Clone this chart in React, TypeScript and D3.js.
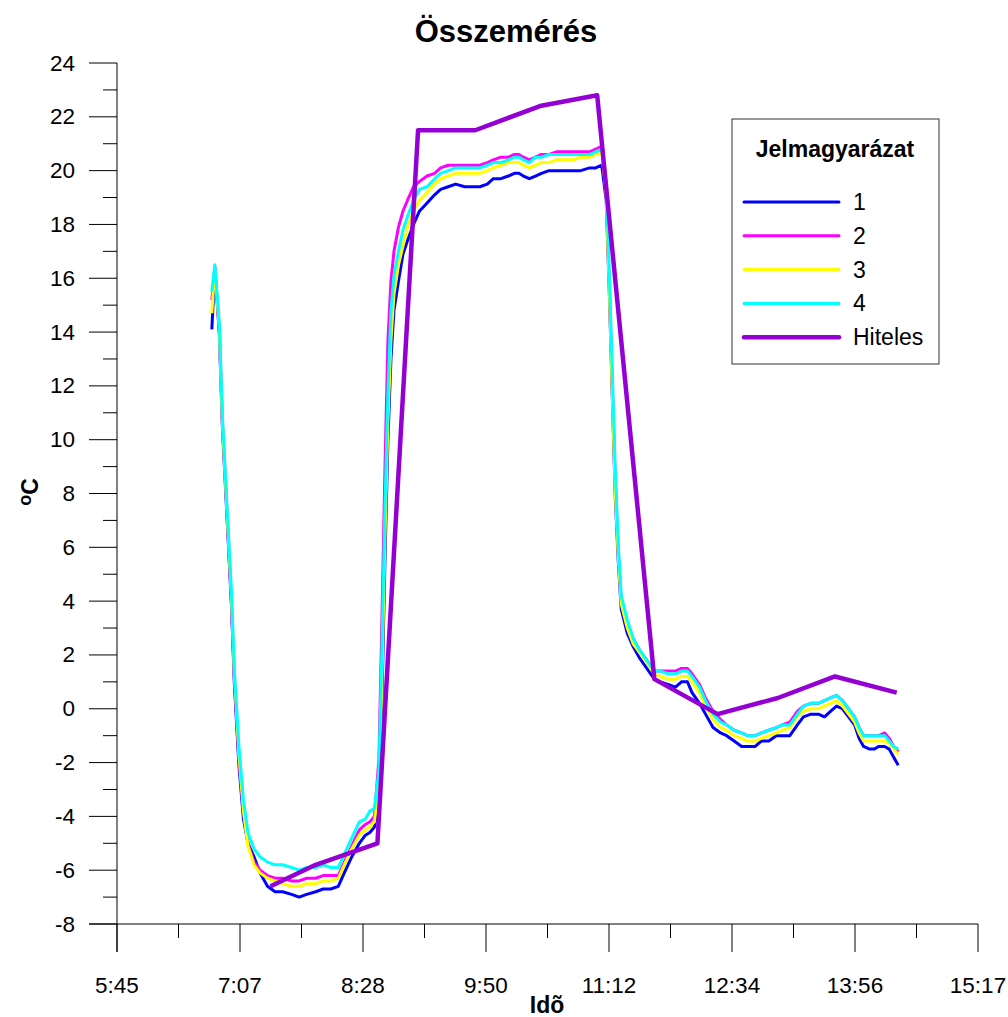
import React from 'react';
import * as d3 from 'd3';

// time in minutes since midnight
const times = [
  408, 410, 413, 415, 418, 421, 423, 426, 429, 432, 436, 440, 445, 450, 455, 461, 466, 471, 477, 482,
  487, 492, 496, 501, 506, 510, 513, 516, 519, 521, 523, 525, 527, 529, 532, 535, 538, 542, 546, 551,
  556, 560, 565, 570, 576, 581, 586, 591, 595, 600, 605, 609, 612, 615, 619, 623, 627, 632, 637, 643,
  648, 653, 659, 663, 667, 670, 672, 674, 676, 678, 680, 684, 688, 692, 697, 702, 706, 711, 716, 720,
  724, 727, 732, 736, 741, 746, 750, 755, 760, 764, 769, 773, 778, 783, 787, 792, 797, 801, 806, 811,
  815, 819, 823, 827, 831, 835, 838, 841, 845, 848, 851, 855, 858, 861, 864,
];

const s1 = [
  14.1, 16.4, 13.9, 10.5, 7.2, 3.9, 0.9, -2.1, -4.1, -5.0, -5.5, -6.1, -6.6, -6.8, -6.8, -6.9, -7.0, -6.9, -6.8, -6.7,
  -6.7, -6.6, -6.1, -5.5, -5.0, -4.7, -4.6, -4.4, -3.4, 0.3, 5.5, 10.0, 13.0, 14.8, 15.9, 16.9, 17.4, 18.0, 18.5, 18.8,
  19.1, 19.3, 19.4, 19.5, 19.4, 19.4, 19.4, 19.5, 19.7, 19.7, 19.8, 19.9, 19.9, 19.8, 19.7, 19.8, 19.9, 20.0, 20.0, 20.0,
  20.0, 20.0, 20.1, 20.1, 20.2, 18.9, 15.6, 11.7, 7.9, 5.5, 3.7, 2.8, 2.3, 1.9, 1.5, 1.1, 1.0, 0.9, 0.8, 1.0,
  1.0, 0.6, 0.2, -0.2, -0.7, -0.9, -1.0, -1.2, -1.4, -1.4, -1.4, -1.2, -1.2, -1.0, -1.0, -1.0, -0.6, -0.3, -0.2, -0.2,
  -0.3, -0.1, 0.1, 0.0, -0.3, -0.6, -1.1, -1.4, -1.5, -1.5, -1.4, -1.4, -1.5, -1.8, -2.1,
];

const s2 = [
  15.2, 16.4, 14.1, 10.7, 7.4, 4.0, 1.1, -1.9, -3.8, -5.0, -5.7, -6.0, -6.2, -6.3, -6.3, -6.4, -6.4, -6.3, -6.3, -6.2,
  -6.2, -6.2, -5.7, -5.1, -4.5, -4.3, -4.2, -4.0, -1.9, 3.3, 8.9, 13.7, 15.9, 17.0, 17.9, 18.5, 18.9, 19.4, 19.6, 19.8,
  19.9, 20.1, 20.2, 20.2, 20.2, 20.2, 20.2, 20.3, 20.4, 20.5, 20.5, 20.6, 20.6, 20.5, 20.4, 20.5, 20.6, 20.6, 20.7, 20.7,
  20.7, 20.7, 20.7, 20.8, 20.9, 19.3, 15.9, 12.2, 8.5, 5.9, 4.0, 3.1, 2.6, 2.2, 1.8, 1.4, 1.4, 1.4, 1.4, 1.5,
  1.5, 1.3, 0.9, 0.4, -0.1, -0.4, -0.6, -0.8, -0.9, -1.0, -1.0, -0.9, -0.8, -0.7, -0.6, -0.5, -0.1, 0.1, 0.2, 0.2,
  0.3, 0.4, 0.5, 0.3, 0.0, -0.3, -0.7, -1.0, -1.0, -1.0, -1.0, -0.9, -1.1, -1.4, -1.6,
];

const s3 = [
  14.7, 16.4, 14.1, 10.7, 7.4, 4.2, 1.3, -1.7, -3.8, -5.1, -5.8, -6.1, -6.3, -6.4, -6.5, -6.6, -6.6, -6.5, -6.5, -6.4,
  -6.4, -6.3, -5.8, -5.2, -4.7, -4.5, -4.4, -4.2, -3.0, 1.1, 6.3, 10.7, 13.7, 15.4, 16.5, 17.2, 17.9, 18.5, 18.9, 19.2,
  19.5, 19.7, 19.8, 19.9, 19.9, 19.9, 19.9, 20.0, 20.1, 20.2, 20.3, 20.3, 20.3, 20.2, 20.1, 20.2, 20.3, 20.3, 20.4, 20.4,
  20.4, 20.5, 20.5, 20.6, 20.7, 19.1, 15.7, 11.8, 8.1, 5.7, 3.9, 3.0, 2.4, 2.1, 1.7, 1.3, 1.2, 1.1, 1.1, 1.2,
  1.2, 1.0, 0.6, 0.1, -0.4, -0.7, -0.8, -1.0, -1.1, -1.2, -1.2, -1.1, -1.0, -0.9, -0.8, -0.7, -0.3, -0.1, 0.0, 0.0,
  0.1, 0.2, 0.3, 0.1, -0.2, -0.5, -0.9, -1.2, -1.2, -1.2, -1.2, -1.2, -1.3, -1.5, -1.7,
];

const s4 = [
  15.5, 16.5, 14.3, 10.9, 7.6, 4.4, 1.4, -1.4, -3.4, -4.6, -5.2, -5.5, -5.7, -5.8, -5.8, -5.9, -6.0, -5.9, -5.9, -5.8,
  -5.9, -5.9, -5.4, -4.8, -4.2, -4.1, -3.8, -3.7, -2.3, 2.2, 7.4, 11.8, 14.8, 16.1, 17.0, 17.8, 18.3, 18.9, 19.3, 19.4,
  19.7, 19.9, 20.0, 20.1, 20.1, 20.1, 20.1, 20.2, 20.3, 20.3, 20.4, 20.5, 20.5, 20.4, 20.3, 20.5, 20.5, 20.6, 20.6, 20.6,
  20.6, 20.6, 20.6, 20.7, 20.8, 19.5, 16.3, 12.6, 8.9, 6.1, 4.2, 3.3, 2.6, 2.2, 1.8, 1.4, 1.4, 1.3, 1.3, 1.4,
  1.4, 1.2, 0.8, 0.3, -0.2, -0.5, -0.6, -0.8, -0.9, -1.0, -1.0, -0.9, -0.8, -0.7, -0.6, -0.6, -0.2, 0.1, 0.2, 0.2,
  0.3, 0.4, 0.5, 0.3, 0.0, -0.3, -0.7, -1.0, -1.0, -1.0, -1.0, -1.0, -1.2, -1.4, -1.5,
];

const hitelesTimes = [447, 477, 518, 545, 583, 626, 664, 702, 744, 784, 822, 863];
const hitelesValues = [-6.6, -5.8, -5.0, 21.5, 21.5, 22.4, 22.8, 1.1, -0.2, 0.4, 1.2, 0.6];

const seriesNames = ['1', '2', '3', '4', 'Hiteles'];
const seriesColors = ['#0000ff', '#ff00ff', '#ffff00', '#00ffff', '#9400d3'];
const xTickLabels = ['5:45', '7:07', '8:28', '9:50', '11:12', '12:34', '13:56', '15:17'];

const FONT = '"Liberation Sans", Arial, Helvetica, sans-serif';

export default function App() {
  const x = d3.scaleLinear().domain([345, 917]).range([117, 978]);
  const y = d3.scaleLinear().domain([-8, 24]).range([924, 63]);

  const xMajor = d3.range(8).map(i => 345 + (i * (917 - 345)) / 7);
  const xMinor = d3.range(7).map(i => 345 + ((i + 0.5) * (917 - 345)) / 7);
  const yMajor = d3.range(-8, 25, 2);
  const yMinor = d3.range(-7, 24, 2);

  const line = d3
    .line<[number, number]>()
    .x(d => x(d[0]))
    .y(d => y(d[1]));

  const sensors = [s1, s2, s3, s4].map(vals => vals.map((v, i) => [times[i], v] as [number, number]));
  const hiteles = hitelesValues.map((v, i) => [hitelesTimes[i], v] as [number, number]);

  const legX = 732;
  const legY = 119;

  return (
    <svg width={1008} height={1017} style={{ position: 'absolute', left: 0, top: 0 }} fontFamily={FONT}>
      <rect width={1008} height={1017} fill="#fff" />
      <text x={506} y={42} textAnchor="middle" fontSize={31} fontWeight="bold">
        Összemérés
      </text>

      {/* axes */}
      <g stroke="#000" strokeWidth={1}>
        <line x1={117} x2={117} y1={y(24)} y2={952} />
        <line x1={89} x2={978} y1={y(-8)} y2={y(-8)} />
        {yMajor.map(v => (
          <line key={'ym' + v} x1={89} x2={117} y1={y(v)} y2={y(v)} />
        ))}
        {yMinor.map(v => (
          <line key={'yn' + v} x1={103} x2={117} y1={y(v)} y2={y(v)} />
        ))}
        {xMajor.map((t, i) => (
          <line key={'xm' + i} x1={x(t)} x2={x(t)} y1={924} y2={952} />
        ))}
        {xMinor.map((t, i) => (
          <line key={'xn' + i} x1={x(t)} x2={x(t)} y1={924} y2={938} />
        ))}
      </g>
      <g fontSize={22.5}>
        {yMajor.map(v => (
          <text key={'yl' + v} x={75} y={y(v)} textAnchor="end" dominantBaseline="central">
            {v}
          </text>
        ))}
        {xMajor.map((t, i) => (
          <text key={'xl' + i} x={x(t)} y={993} textAnchor="middle">
            {xTickLabels[i]}
          </text>
        ))}
      </g>
      <text x={547} y={1013} textAnchor="middle" fontSize={23} fontWeight="bold">
        Idõ
      </text>
      <text transform="translate(38,492) rotate(-90)" textAnchor="middle" fontSize={23} fontWeight="bold">
        <tspan fontSize={18} dy={-7}>o</tspan>
        <tspan dy={7}>C</tspan>
      </text>

      {/* data */}
      {sensors.map((pts, i) => (
        <path key={'s' + i} d={line(pts) || ''} fill="none" stroke={seriesColors[i]} strokeWidth={3} strokeLinejoin="round" />
      ))}
      <path d={line(hiteles) || ''} fill="none" stroke={seriesColors[4]} strokeWidth={4.5} strokeLinejoin="round" />

      {/* legend */}
      <rect x={legX} y={legY} width={207} height={245} fill="#fff" stroke="#333" strokeWidth={1} />
      <text x={835} y={157} textAnchor="middle" fontSize={23} fontWeight="bold">
        Jelmagyarázat
      </text>
      {seriesNames.map((name, i) => (
        <g key={'lg' + i} transform={`translate(0,${202 + i * 33.8})`}>
          <line x1={744} x2={839} y1={0} y2={0} stroke={seriesColors[i]} strokeWidth={i === 4 ? 4.5 : 3} strokeLinecap="round" />
          <text x={853} y={0} dominantBaseline="central" fontSize={23}>
            {name}
          </text>
        </g>
      ))}
    </svg>
  );
}
